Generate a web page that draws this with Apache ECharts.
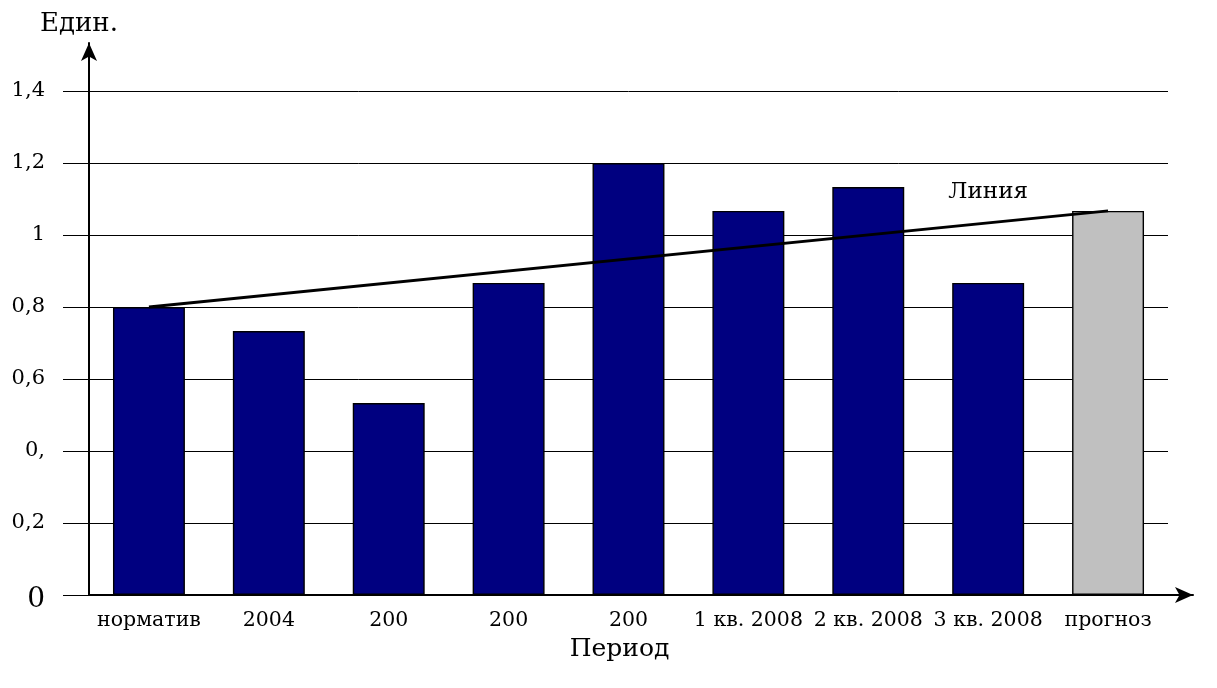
<!DOCTYPE html>
<html>
<head>
<meta charset="utf-8">
<script src="https://cdn.jsdelivr.net/npm/echarts@6/dist/echarts.min.js"></script>
<style>
  html, body { margin: 0; padding: 0; background: #fff; }
  #chart { width: 1217px; height: 688px; }
</style>
</head>
<body>
<div id="chart"></div>
<script>
// Periods along the horizontal axis
const categories = ['норматив', '2004', '200', '200', '200', '1 кв. 2008', '2 кв. 2008', '3 кв. 2008', 'прогноз'];
// Bar heights, units
const values = [0.8, 0.733, 0.533, 0.867, 1.2, 1.067, 1.133, 0.867, 1.067];
// Trend line: from the norm to the forecast
const trendLine = [0.8, null, null, null, null, null, null, null, 1.067];
// Y tick labels as printed (0 … 1,4 in steps of 0,2)
const yTickLabels = ['0', '0,2', '0,', '0,6', '0,8', '1', '1,2', '1,4'];

const FONT = 'DejaVu Serif';
const chart = echarts.init(document.getElementById('chart'), null, { renderer: 'canvas' });

chart.setOption({
  animation: false,
  backgroundColor: '#ffffff',
  textStyle: { fontFamily: FONT, color: '#000' },
  grid: [
    // plotting area
    { left: 89, right: 49, top: 91, bottom: 93, containLabel: false },
    // arrowed axes frame
    { left: 89, right: 24, top: 43, bottom: 93, containLabel: false }
  ],
  title: {
    text: 'Един.',
    left: 35,
    top: 6,
    textStyle: { fontFamily: FONT, fontSize: 26, fontWeight: 'normal', color: '#000' }
  },
  xAxis: [
    {
      type: 'category',
      gridIndex: 0,
      data: categories,
      boundaryGap: true,
      axisLine: { show: false },
      axisTick: { show: false },
      axisLabel: { color: '#000', fontFamily: FONT, fontSize: 20.5, margin: 15, interval: 0 },
      name: 'Период',
      nameLocation: 'middle',
      nameGap: 42,
      nameTextStyle: { fontFamily: FONT, fontSize: 25, color: '#000', padding: [0, 18, 0, 0] }
    },
    {
      type: 'value',
      gridIndex: 1,
      min: 0, max: 1,
      axisLine: { show: true, lineStyle: { color: '#000', width: 2 }, symbol: ['none', 'arrow'], symbolSize: [12, 18] },
      axisTick: { show: false },
      axisLabel: { show: false },
      splitLine: { show: false }
    }
  ],
  yAxis: [
    {
      type: 'value',
      gridIndex: 0,
      min: 0, max: 1.4, interval: 0.2,
      axisLine: { show: false },
      axisTick: { show: true, inside: false, length: 26, lineStyle: { color: '#000', width: 1 } },
      splitLine: { show: true, lineStyle: { color: '#000', width: 1 } },
      axisLabel: {
        color: '#000', fontFamily: FONT, fontSize: 21, margin: 44,
        formatter: function (v) {
          const i = Math.round(v / 0.2);
          const t = yTickLabels[i];
          return i === 0 ? '{big|' + t + '}' : t;
        },
        rich: { big: { fontFamily: FONT, fontSize: 28, color: '#000', padding: [10, 0, 0, 0] } }
      }
    },
    {
      type: 'value',
      gridIndex: 1,
      min: 0, max: 1,
      axisLine: { show: true, lineStyle: { color: '#000', width: 2 }, symbol: ['none', 'arrow'], symbolSize: [12, 18] },
      axisTick: { show: false },
      axisLabel: { show: false },
      splitLine: { show: false }
    }
  ],
  series: [
    {
      type: 'bar',
      xAxisIndex: 0, yAxisIndex: 0,
      barWidth: '60%',
      data: values.map(function (v, i) {
        return {
          value: v,
          itemStyle: { color: i === values.length - 1 ? '#c0c0c0' : '#000080' }
        };
      }),
      itemStyle: { borderColor: '#000', borderWidth: 1.4 }
    },
    {
      type: 'line',
      xAxisIndex: 0, yAxisIndex: 0,
      data: trendLine,
      connectNulls: true,
      showSymbol: false,
      symbol: 'none',
      lineStyle: { color: '#000', width: 3 },
      markPoint: {
        symbol: 'circle',
        symbolSize: 0,
        label: { show: true, formatter: 'Линия', fontFamily: FONT, fontSize: 23, color: '#000' },
        data: [{ coord: ['3 кв. 2008', 1.118] }]
      },
      z: 5
    }
  ]
});
</script>
</body>
</html>
